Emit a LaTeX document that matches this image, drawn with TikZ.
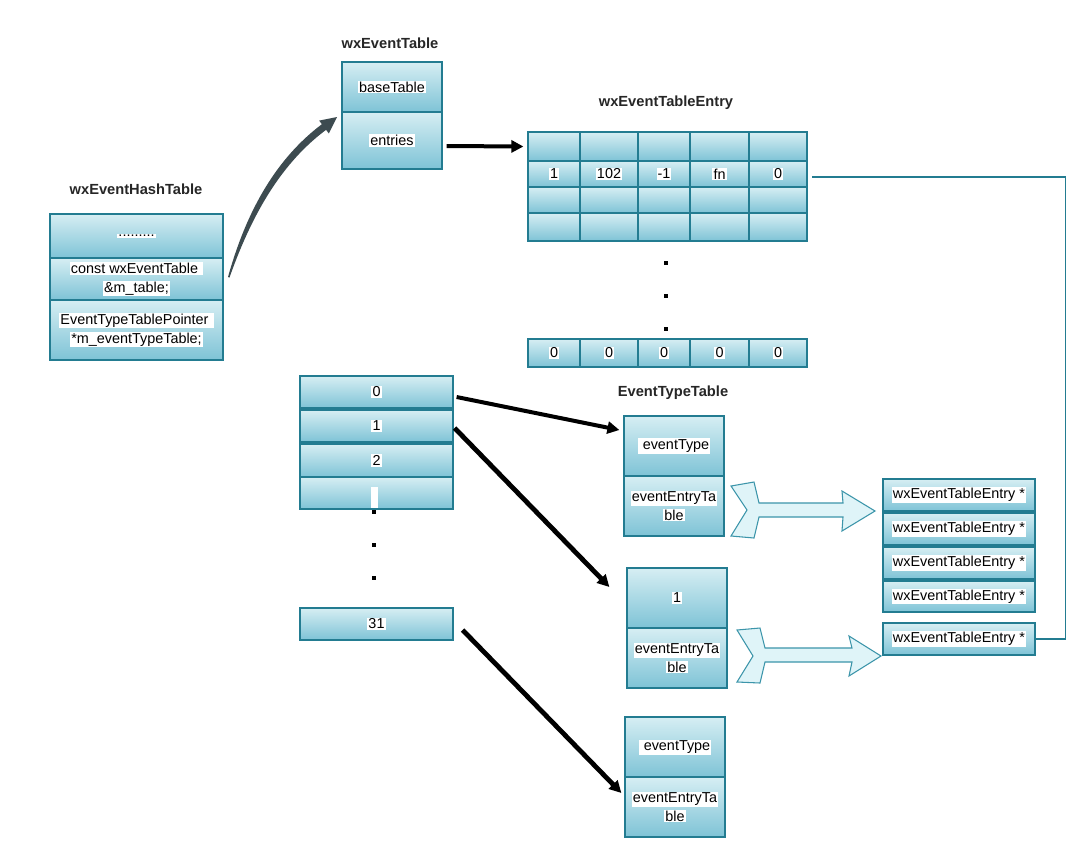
\documentclass[tikz,border=0pt]{standalone}
\usepackage{fontspec}
\setmainfont{Liberation Sans}
\usetikzlibrary{fit,arrows.meta}

\definecolor{celltop}{HTML}{D6EEF3}
\definecolor{cellbot}{HTML}{7EC3D6}
\definecolor{cellline}{HTML}{237C91}
\definecolor{blockfill}{HTML}{DFF4F8}
\definecolor{blockline}{HTML}{3C95AA}
\definecolor{curvegray}{HTML}{3D4B50}

\tikzset{
  cell/.style={rectangle, draw=cellline, line width=0.9pt, top color=celltop, bottom color=cellbot, inner sep=0pt},
  lbl/.style={inner sep=0pt, font=\fontsize{10.8}{14}\selectfont, align=center},
  title/.style={inner sep=0pt, font=\fontsize{11}{13}\selectfont\bfseries, text=black!85},
  ptr/.style={line width=3pt, draw=black, -{Triangle[length=9pt,width=9pt]}},
  dotmark/.style={rectangle, fill=black, minimum size=2.4pt, inner sep=0pt},
  link/.style={draw=cellline, line width=0.8pt},
  block/.style={fill=blockfill, draw=blockline, line width=0.8pt},
}

% white background behind each text line
\newcommand\wb[1]{{\setlength{\fboxsep}{0.8pt}\colorbox{white}{#1}}}
% shaded cell with a label: name, x1, y1, x2, y2, text
\newcommand\mkcell[6]{\node[cell, fit={(#2,#3) (#4,#5)}] (#1) {}; \node[lbl] (#1-t) at (#1.center) {#6};}
% shaded cell without a label
\newcommand\mkecell[5]{\node[cell, fit={(#2,#3) (#4,#5)}] (#1) {};}

\begin{document}
\begin{tikzpicture}[x=0.75pt, y=-0.75pt]
\useasboundingbox[fill=white] (0,0) rectangle (1067,840);

% ---- titles
\node[title] (tHash)  at (136,189) {wxEventHashTable};
\node[title] (tTable) at (390,43)  {wxEventTable};
\node[title] (tEntry) at (666,103) {wxEventTableEntry};
\node[title] (tType)  at (673,393) {EventTypeTable};

% ---- wxEventHashTable
\mkcell{h1}{50}{214}{223}{258}{\wb{.........}}
\mkcell{h2}{50}{258}{223}{300}{\wb{const wxEventTable\ }\\\wb{\&m\_table;}}
\mkcell{h3}{50}{300}{223}{360}{\wb{EventTypeTablePointer\ }\\\wb{*m\_eventTypeTable;}}

% ---- wxEventTable
\mkcell{t1}{342}{62}{442}{112}{\wb{baseTable}}
\mkcell{t2}{342}{112}{442}{169}{\wb{entries}}

% ---- wxEventTableEntry grid
\foreach \r/\ya/\yb in {1/132/161, 2/161/187, 3/187/213, 4/213/241}
  \foreach \c/\xa/\xb in {1/528/580, 2/580/638, 3/638/690, 4/690/749, 5/749/807}
    {\mkecell{e\r\c}{\xa}{\ya}{\xb}{\yb}}
\node[lbl] (v1) at (e21) {\wb{1}};
\node[lbl] (v2) at (e22) {\wb{102}};
\node[lbl] (v3) at (e23) {\wb{-1}};
\node[lbl] (v4) at (e24) {\wb{fn}};
\node[lbl] (v5) at (e25) {\wb{0}};
\foreach \c/\xa/\xb in {1/528/580, 2/580/638, 3/638/690, 4/690/749, 5/749/807}
  {\mkcell{z\c}{\xa}{339}{\xb}{367}{\wb{0}}}
\node[dotmark] (gd1) at (666,263) {};
\node[dotmark] (gd2) at (666,296) {};
\node[dotmark] (gd3) at (666,329) {};

% ---- event type array
\mkcell{a0}{300}{376}{453}{408}{\wb{0}}
\mkcell{a1}{300}{410}{453}{442}{\wb{1}}
\mkcell{a2}{300}{444}{453}{477}{\wb{2}}
\mkecell{a3}{300}{477}{453}{509}
\fill[white] (371,487) rectangle (378,508);
\node[dotmark] (ad1) at (374,512) {};
\node[dotmark] (ad2) at (374,545) {};
\node[dotmark] (ad3) at (374,578) {};
\mkcell{a31}{300}{608}{453}{640}{\wb{31}}

% ---- EventTypeTable boxes
\mkcell{A1}{624}{416}{724}{476}{\wb{\ eventType}}
\mkcell{A2}{624}{476}{724}{536}{\wb{eventEntryTa}\\\wb{ble}}
\mkcell{B1}{627}{568}{727}{628}{\wb{1}}
\mkcell{B2}{627}{628}{727}{688}{\wb{eventEntryTa}\\\wb{ble}}
\mkcell{C1}{625}{717}{725}{777}{\wb{\ eventType}}
\mkcell{C2}{625}{777}{725}{837}{\wb{eventEntryTa}\\\wb{ble}}

% ---- entry pointers
\mkcell{p1}{883}{479}{1035}{511}{\wb{wxEventTableEntry *}}
\mkcell{p2}{883}{513}{1035}{545}{\wb{wxEventTableEntry *}}
\mkcell{p3}{883}{547}{1035}{579}{\wb{wxEventTableEntry *}}
\mkcell{p4}{883}{581}{1035}{612}{\wb{wxEventTableEntry *}}
\mkcell{p5}{883}{623}{1035}{655}{\wb{wxEventTableEntry *}}

% ---- curved tapered arrow from the hash table to wxEventTable
\fill[curvegray] (228,277) .. controls (247,209) and (277,158) .. (321.9,124.2)
  -- (319.2,120.6) -- (337,117) -- (328.8,133.4) -- (326.1,129.8)
  .. controls (283,162) and (253,211) .. (229.5,277.5) -- cycle;

% ---- pointer arrows
\draw[ptr] ([shift={(4,5.5)}]t2.east) -- ([shift={(-4,0)}]e11.west);
\draw[ptr] ([shift={(3,5)}]a0.east) -- ([shift={(-4,-16)}]A1.west);
\draw[ptr, line width=3.6pt] ([shift={(1,2)}]a1.east) -- ([shift={(-17,-11)}]B1.west);
\draw[ptr, line width=3.6pt] ([shift={(9,6)}]a31.east) -- ([shift={(-3,-14)}]C2.west);

% ---- block arrows
\draw[block] (731,486) -- (754,482) -- (759,503) -- (843,503) -- (842,491) -- (875,511)
  -- (842,531) -- (843,517) -- (759,517) -- (754,538) -- (731,536) -- (747,510) -- cycle;
\draw[block] (737,630) -- (760,628) -- (765,648) -- (852,648) -- (849,636) -- (881,656)
  -- (849,676) -- (852,662) -- (765,662) -- (760,683) -- (737,682) -- (753,656) -- cycle;

% ---- link from the last entry pointer back to the table row
\draw[link] (p5.east) -- ++(30,0) |- ([shift={(4,3)}]e25.east);

\end{tikzpicture}
\end{document}
